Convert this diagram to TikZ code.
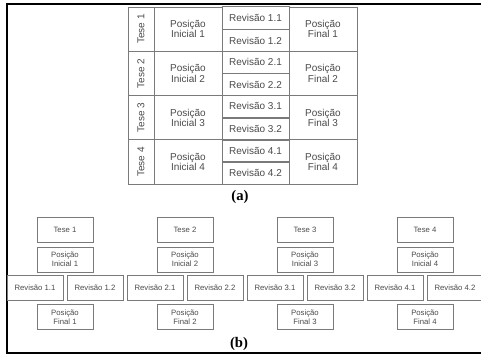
\documentclass[tikz,border=0pt]{standalone}
\usepackage{fontspec}
\setmainfont{Liberation Serif}
\setsansfont{Liberation Sans}

\definecolor{linegray}{HTML}{7A7A7A}
\definecolor{txtgray}{HTML}{4A4A4A}

\begin{document}
\begin{tikzpicture}[x=0.75pt,y=-0.75pt,
  every node/.append style={font=\sffamily,text=txtgray},
  cell/.style={draw=linegray,inner sep=0pt,align=center,font=\sffamily\fontsize{7.5}{7.6}\selectfont},
  tesecell/.style={cell,rotate=90,minimum width=33.19pt,minimum height=19.5pt},
  poscell/.style={cell,minimum width=51pt,minimum height=33.19pt},
  revcell/.style={cell,minimum width=50.25pt,minimum height=16.59pt},
  box/.style={draw=linegray,inner sep=0pt,align=center,minimum width=42pt,minimum height=18.4pt,
    font=\sffamily\fontsize{5.8}{7}\selectfont},
  tag/.style={text=black,font=\rmfamily\bfseries\fontsize{11}{12}\selectfont}]
  \clip (0,0) rectangle (481,356);
  \useasboundingbox (0,0) rectangle (481,356);
  \draw[line width=1.5pt] (7,4) rectangle (500,353);

  % (a) table
  \foreach \i in {1,...,4} {
    \pgfmathsetmacro{\yc}{7+44.25*(\i-0.5)}
    \node[tesecell] (tese\i) at (141,\yc) {Tese \i};
    \node[poscell] (ini\i) at (188,\yc) {Posição\\Inicial \i};
    \node[revcell,anchor=south] (rev\i a) at (255.5,\yc) {Revisão \i.1};
    \node[revcell,anchor=north] (rev\i b) at (255.5,\yc) {Revisão \i.2};
    \node[poscell] (fin\i) at (323,\yc) {Posição\\Final \i};
  }
  \node[tag] (lbla) at (240,197) {(a)};

  % (b) four trees
  \foreach \i in {1,...,4} {
    \pgfmathsetmacro{\xc}{65+120*(\i-1)}
    \node[box] (t\i) at (\xc,230) {Tese \i};
    \node[box] (pi\i) at (\xc,259.5) {Posição\\Inicial \i};
    \node[box] (r\i a) at (\xc-30,288) {Revisão \i.1};
    \node[box] (r\i b) at (\xc+30,288) {Revisão \i.2};
    \node[box] (pf\i) at (\xc,317) {Posição\\Final \i};
  }
  \node[tag] (lblb) at (239,344) {(b)};
\end{tikzpicture}
\end{document}
